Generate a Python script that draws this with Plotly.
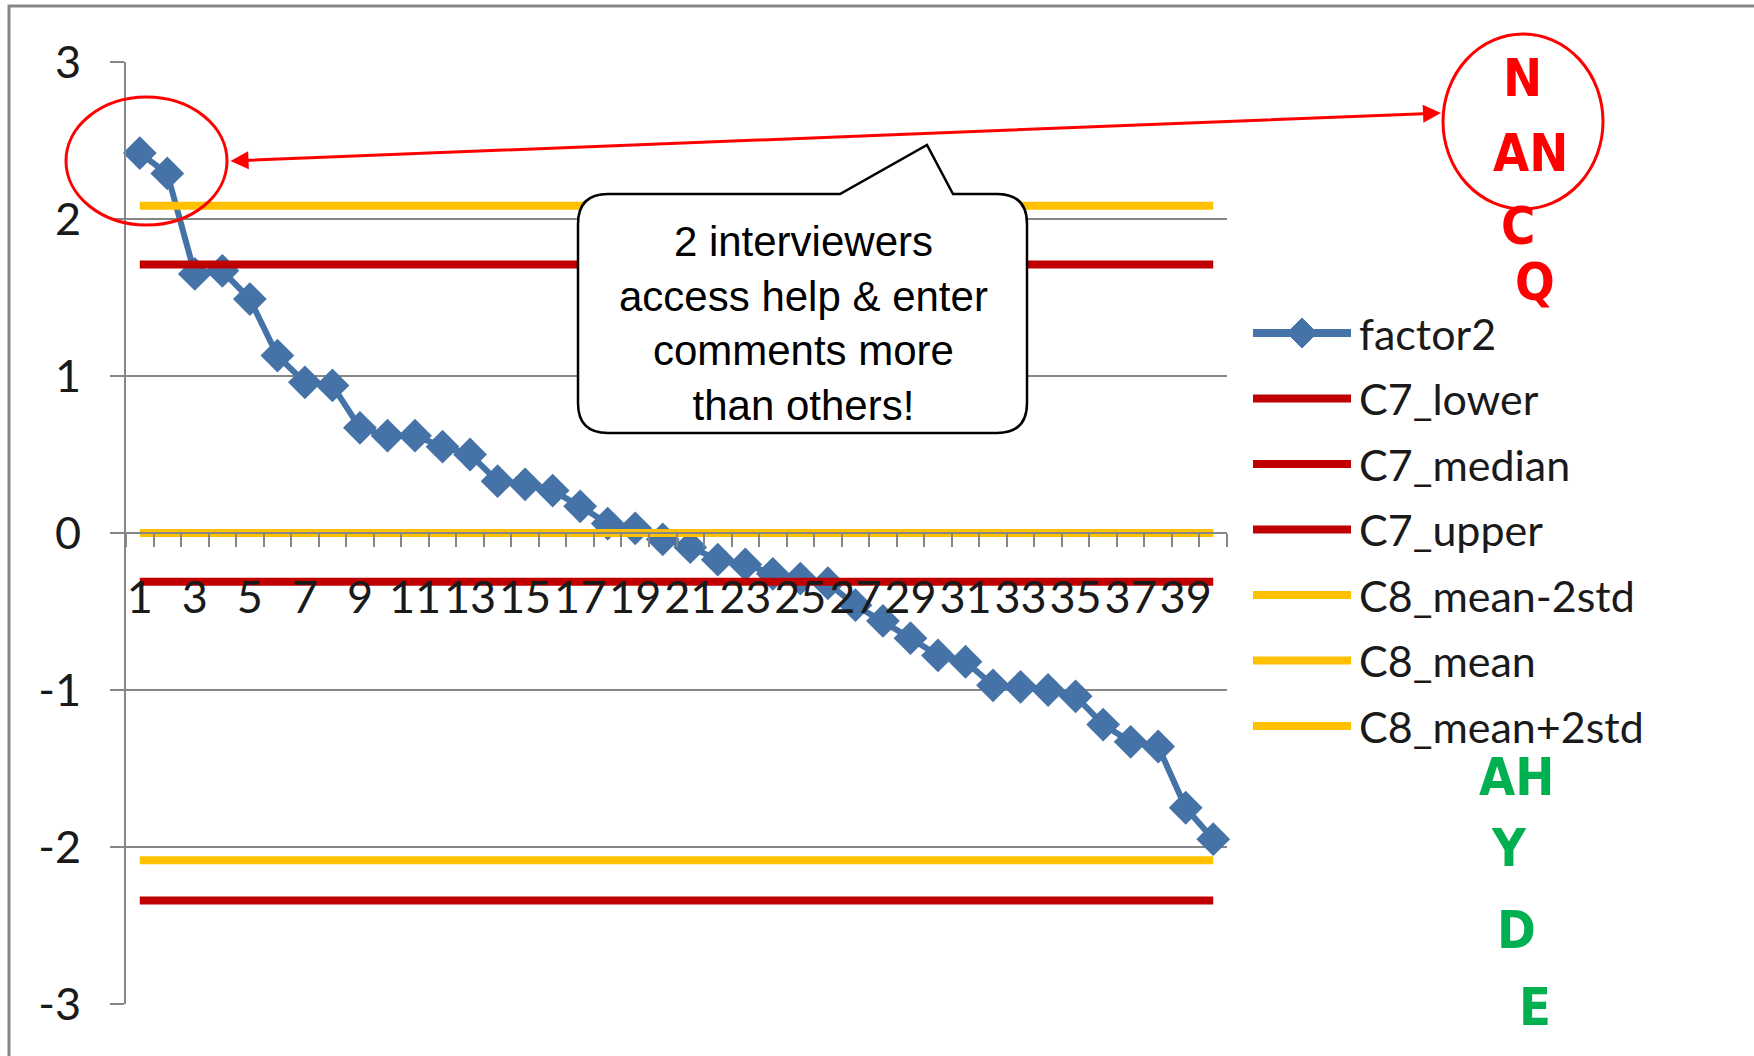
import plotly.graph_objects as go

# ---- data -------------------------------------------------------------
interviewers = list(range(1, 41))
factor2 = [2.42, 2.29, 1.65, 1.67, 1.49, 1.13, 0.96, 0.94, 0.67, 0.62,
           0.62, 0.55, 0.50, 0.33, 0.31, 0.27, 0.17, 0.06, 0.03, -0.04,
           -0.09, -0.17, -0.20, -0.26, -0.29, -0.32, -0.46, -0.56, -0.67, -0.78,
           -0.82, -0.97, -0.98, -1.00, -1.04, -1.22, -1.33, -1.36, -1.75, -1.95]

ref_names = ["C7_lower", "C7_median", "C7_upper",
             "C8_mean-2std", "C8_mean", "C8_mean+2std"]
ref_values = [-2.34, -0.31, 1.71, -2.085, 0.0, 2.085]
ref_colors = ["#C00000", "#C00000", "#C00000", "#FFC000", "#FFC000", "#FFC000"]

x_tick_vals = list(range(1, 41, 2))
x_tick_text = [str(v) for v in x_tick_vals]
y_tick_vals = [-3, -2, -1, 0, 1, 2, 3]
y_tick_text = ["-3", "-2", "-1", "0", "1", "2", "3"]

callout_lines = ["2 interviewers", "access help & enter", "comments more", "than others!"]
high_codes = ["N", "AN", "C", "Q"]
low_codes = ["AH", "Y", "D", "E"]

# ---- page geometry (pixels) -------------------------------------------
W, H = 1754, 1056
PL, PR, PT, PB = 126, 1227, 62, 1004

def px(x):
    return (x - PL) / (PR - PL)

def py(y):
    return (PB - y) / (PB - PT)

BLUE = "#4572A7"
GRID = "#868686"
TXT = "#1a1a1a"
LATO = "Lato, Calibri, sans-serif"

fig = go.Figure()

fig.add_trace(go.Scatter(
    x=interviewers, y=factor2, name="factor2", mode="lines+markers",
    line=dict(color=BLUE, width=6),
    marker=dict(symbol="diamond", size=26, color=BLUE),
    showlegend=False, cliponaxis=False))

for name, val, col in zip(ref_names, ref_values, ref_colors):
    fig.add_trace(go.Scatter(
        x=[interviewers[0], interviewers[-1]], y=[val, val], name=name,
        mode="lines", line=dict(color=col, width=8), showlegend=False))

fig.update_layout(
    width=W, height=H,
    margin=dict(l=PL, r=W - PR, t=PT, b=H - PB, pad=0, autoexpand=False),
    paper_bgcolor="white", plot_bgcolor="white",
    xaxis=dict(
        range=[0.5, 40.5], anchor="free", position=0.5,
        tickmode="array", tickvals=x_tick_vals, ticktext=x_tick_text,
        ticks="", showgrid=False, zeroline=False,
        showline=True, linecolor=GRID, linewidth=2,
        tickfont=dict(family=LATO, size=45, color=TXT),
        ticklabelstandoff=25,
        minor=dict(ticks="outside", ticklen=13, tickwidth=2, tickcolor=GRID,
                   tick0=0.5, dtick=1, showgrid=False),
    ),
    yaxis=dict(
        range=[-3, 3], tickmode="array", tickvals=y_tick_vals, ticktext=y_tick_text,
        showgrid=True, gridcolor=GRID, gridwidth=2, zeroline=False,
        ticks="outside", ticklen=14, tickwidth=2, tickcolor=GRID,
        showline=True, linecolor=GRID, linewidth=2,
        tickfont=dict(family=LATO, size=45, color=TXT),
        ticklabelstandoff=20,
    ),
)

shapes = []
annotations = []

# chart-area frame
shapes.append(dict(type="rect", xref="paper", yref="paper",
                   x0=px(9), x1=px(1800), y0=py(1100), y1=py(6),
                   line=dict(color=GRID, width=3), layer="below"))

# legend drawn as line samples plus labels
leg_names = ["factor2"] + ref_names
leg_colors = [BLUE] + ref_colors
leg_y0, leg_step = 333, 65.5
for i, (nm, col) in enumerate(zip(leg_names, leg_colors)):
    yy = leg_y0 + i * leg_step
    shapes.append(dict(type="line", xref="paper", yref="paper",
                       x0=px(1253), x1=px(1351), y0=py(yy), y1=py(yy),
                       line=dict(color=col, width=8)))
    if i == 0:
        cx, hw = 1302, 15
        path = "M {} {} L {} {} L {} {} L {} {} Z".format(
            px(cx - hw), py(yy), px(cx), py(yy - hw),
            px(cx + hw), py(yy), px(cx), py(yy + hw))
        shapes.append(dict(type="path", xref="paper", yref="paper", path=path,
                           fillcolor=BLUE, line=dict(color=BLUE, width=1)))
    annotations.append(dict(text=nm, xref="paper", yref="paper",
                            x=px(1357), y=py(yy), xanchor="left", yanchor="middle",
                            showarrow=False,
                            font=dict(family=LATO, size=43, color=TXT)))

# speech-bubble callout
x0, x1, y0, y1, r = 578, 1027, 194, 433, 30
bl, br, ax_, ay_ = 840, 953, 927, 145
pts = [
    ("M", [(x0 + r, y0)]), ("L", [(bl, y0)]), ("L", [(ax_, ay_)]), ("L", [(br, y0)]),
    ("L", [(x1 - r, y0)]), ("Q", [(x1, y0), (x1, y0 + r)]),
    ("L", [(x1, y1 - r)]), ("Q", [(x1, y1), (x1 - r, y1)]),
    ("L", [(x0 + r, y1)]), ("Q", [(x0, y1), (x0, y1 - r)]),
    ("L", [(x0, y0 + r)]), ("Q", [(x0, y0), (x0 + r, y0)]),
]
path = " ".join(cmd + " " + " ".join("{:.5f},{:.5f}".format(px(a), py(b)) for a, b in p)
                for cmd, p in pts) + " Z"
shapes.append(dict(type="path", xref="paper", yref="paper", path=path,
                   fillcolor="white", line=dict(color="black", width=2.5),
                   layer="above"))
annotations.append(dict(text="<br>".join(callout_lines), xref="paper", yref="paper",
                        x=px(803), y=py(323), xanchor="center", yanchor="middle",
                        showarrow=False, align="center",
                        font=dict(family="Liberation Sans, Arial, sans-serif",
                                  size=42, color="black")))

# highlight ellipses
shapes.append(dict(type="circle", xref="paper", yref="paper",
                   x0=px(66), x1=px(227), y0=py(225), y1=py(97),
                   line=dict(color="#FF0000", width=3), layer="above"))
shapes.append(dict(type="circle", xref="paper", yref="paper",
                   x0=px(1443), x1=px(1603), y0=py(209), y1=py(34),
                   line=dict(color="#FF0000", width=3), layer="above"))

# double-headed arrow linking the two ellipses
tip_l = (229, 161)
tip_r = (1441, 113)
annotations.append(dict(text="", xref="paper", yref="paper",
                        x=px(tip_r[0]), y=py(tip_r[1]),
                        ax=tip_l[0] - tip_r[0], ay=tip_l[1] - tip_r[1],
                        axref="pixel", ayref="pixel",
                        showarrow=True, arrowside="end+start", arrowhead=2,
                        startarrowhead=2, arrowsize=1.2, startarrowsize=1.2,
                        arrowwidth=3, arrowcolor="#FF0000"))

# interviewer codes beside the chart
code_font = "Liberation Sans Narrow, Arial Narrow, DejaVu Sans Condensed, sans-serif"
high_pos = [(1522, 78), (1530, 153), (1518, 226), (1535, 282)]
low_pos = [(1517, 777), (1509, 848), (1517, 930), (1535, 1007)]
for txt, (cx, cy) in zip(high_codes, high_pos):
    annotations.append(dict(text="<b>" + txt + "</b>", xref="paper", yref="paper",
                            x=px(cx), y=py(cy), xanchor="center", yanchor="middle",
                            showarrow=False,
                            font=dict(family=code_font, size=52, color="#FF0000")))
for txt, (cx, cy) in zip(low_codes, low_pos):
    annotations.append(dict(text="<b>" + txt + "</b>", xref="paper", yref="paper",
                            x=px(cx), y=py(cy), xanchor="center", yanchor="middle",
                            showarrow=False,
                            font=dict(family=code_font, size=52, color="#00B050")))

fig.update_layout(shapes=shapes, annotations=annotations)

fig.write_html("out.html")
